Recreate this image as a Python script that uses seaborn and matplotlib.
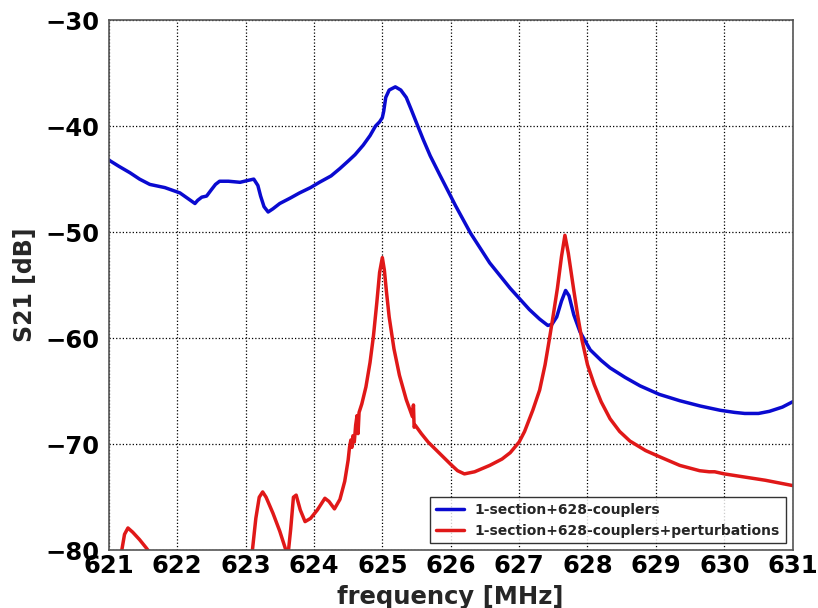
import numpy as np
import pandas as pd
import matplotlib
matplotlib.use("Agg")
import matplotlib.pyplot as plt
import seaborn as sns

# ---- data ----
blue_label = "1-section+628-couplers"
red_label = "1-section+628-couplers+perturbations"

blue_freq = [621.00, 621.15, 621.31, 621.45, 621.60, 621.82, 622.04, 622.15, 622.26, 622.30,
             622.36, 622.43, 622.50, 622.56, 622.62, 622.75, 622.92, 623.05, 623.12, 623.18,
             623.22, 623.27, 623.33, 623.40, 623.50, 623.65, 623.79, 623.95, 624.08, 624.25,
             624.38, 624.50, 624.60, 624.72, 624.82, 624.90, 624.96, 625.00, 625.02, 625.05,
             625.10, 625.19, 625.27, 625.35, 625.42, 625.50, 625.60, 625.70, 625.84, 626.07,
             626.29, 626.57, 626.87, 627.15, 627.30, 627.42, 627.48, 627.55, 627.62, 627.68,
             627.73, 627.80, 627.89, 628.04, 628.20, 628.33, 628.55, 628.77, 629.05, 629.35,
             629.65, 629.94, 630.15, 630.30, 630.50, 630.66, 630.85, 631.00]
blue_db = [-43.2, -43.8, -44.4, -45.0, -45.5, -45.8, -46.3, -46.8, -47.3, -47.0,
           -46.7, -46.6, -46.0, -45.5, -45.2, -45.2, -45.3, -45.1, -45.0, -45.6,
           -46.6, -47.6, -48.1, -47.8, -47.3, -46.8, -46.3, -45.8, -45.3, -44.7,
           -44.0, -43.3, -42.7, -41.8, -40.9, -40.0, -39.6, -39.2, -38.6, -37.3,
           -36.6, -36.3, -36.6, -37.3, -38.4, -39.7, -41.3, -42.8, -44.6, -47.5,
           -50.1, -52.9, -55.3, -57.3, -58.2, -58.8, -58.7, -58.0, -56.5, -55.5,
           -56.0, -57.8, -59.4, -61.1, -62.1, -62.8, -63.7, -64.5, -65.3, -65.9,
           -66.4, -66.8, -67.0, -67.1, -67.1, -66.9, -66.5, -66.0]

red_freq = [621.15, 621.19, 621.23, 621.28, 621.35, 621.45, 621.55, 621.63, 621.75, 622.50,
            623.05, 623.10, 623.15, 623.20, 623.25, 623.30, 623.40, 623.50, 623.58, 623.62,
            623.66, 623.70, 623.74, 623.80, 623.87, 623.95, 624.05, 624.16, 624.22, 624.30,
            624.38, 624.45, 624.50, 624.52, 624.54, 624.555, 624.57, 624.59, 624.61, 624.63,
            624.645, 624.66, 624.70, 624.76, 624.82, 624.87, 624.92, 624.96, 625.00, 625.03,
            625.06, 625.10, 625.17, 625.25, 625.35, 625.44, 625.455, 625.465, 625.48, 625.57,
            625.67, 625.78, 625.89, 626.00, 626.10, 626.20, 626.35, 626.57, 626.75, 626.87,
            627.00, 627.08, 627.20, 627.30, 627.38, 627.44, 627.50, 627.56, 627.62, 627.67,
            627.72, 627.80, 627.86, 627.92, 628.00, 628.10, 628.20, 628.33, 628.47, 628.62,
            628.85, 629.06, 629.35, 629.64, 629.78, 629.86, 630.00, 630.20, 630.60, 631.00]
red_db = [-84.0, -80.0, -78.5, -77.9, -78.3, -79.0, -79.8, -80.5, -82.0, -86.0,
          -82.0, -80.0, -77.0, -75.0, -74.5, -75.0, -76.5, -78.2, -79.8, -80.5,
          -78.0, -75.0, -74.8, -76.2, -77.3, -77.0, -76.2, -75.1, -75.4, -76.1,
          -75.2, -73.5, -71.5, -70.3, -69.6, -70.3, -69.2, -69.8, -68.2, -67.3,
          -69.0, -67.0, -66.2, -64.6, -62.3, -59.8, -56.6, -53.8, -52.4, -53.6,
          -55.6, -58.0, -61.0, -63.5, -65.8, -67.4, -66.3, -68.4, -68.2, -69.0,
          -69.8, -70.5, -71.2, -71.9, -72.5, -72.8, -72.6, -72.0, -71.4, -70.8,
          -69.8, -68.8, -66.8, -64.9, -62.5, -60.2, -57.8, -55.3, -52.3, -50.3,
          -52.0, -55.5, -58.0, -60.2, -62.5, -64.4, -66.0, -67.6, -68.8, -69.7,
          -70.6, -71.2, -72.0, -72.5, -72.6, -72.6, -72.8, -73.0, -73.4, -73.9]

x_ticks = [621, 622, 623, 624, 625, 626, 627, 628, 629, 630, 631]
y_ticks = [-80, -70, -60, -50, -40, -30]

df = pd.concat([
    pd.DataFrame({"freq": blue_freq, "S21": blue_db, "series": blue_label}),
    pd.DataFrame({"freq": red_freq, "S21": red_db, "series": red_label}),
], ignore_index=True)

sns.set_style("white")
plt.rcParams["font.family"] = ["DejaVu Sans"]
plt.rcParams["font.weight"] = "bold"

fig = plt.figure(figsize=(8.18, 6.08), dpi=100)
ax = fig.add_axes([0.133, 0.095, 0.836, 0.872])

sns.lineplot(data=df, x="freq", y="S21", hue="series",
             palette={blue_label: "#0a0ad0", red_label: "#e01818"},
             linewidth=2.5, sort=False, estimator=None, ax=ax)

ax.set_xlim(621, 631)
ax.set_ylim(-80, -30)
ax.set_xticks(x_ticks)
ax.set_yticks(y_ticks)
ax.set_xticklabels([str(t) for t in x_ticks], fontsize=17.5, fontweight="bold")
ax.set_yticklabels([("\u2212" + str(abs(t))) for t in y_ticks], fontsize=17.5, fontweight="bold")
ax.set_xlabel("frequency [MHz]", fontsize=17.5, fontweight="bold", labelpad=5)
ax.set_ylabel("S21 [dB]", fontsize=17, fontweight="bold", labelpad=6)

ax.grid(True, color="black", linestyle=":", linewidth=0.9)
ax.tick_params(axis="y", direction="in", length=5, width=1, colors="#444444", labelcolor="black", pad=7)
ax.tick_params(axis="x", direction="in", length=5, width=1, colors="#444444", labelcolor="black", pad=3)
for s in ax.spines.values():
    s.set_color("#555555")
    s.set_linewidth(1.2)

leg = ax.legend(loc="lower right", prop={"size": 10, "weight": "bold"},
                frameon=True, fancybox=False, borderaxespad=0.5, handlelength=2.0)
leg.get_frame().set_edgecolor("black")
leg.get_frame().set_linewidth(1.0)
for line in leg.get_lines():
    line.set_linewidth(2.5)

fig.savefig("out.png", dpi=100)
